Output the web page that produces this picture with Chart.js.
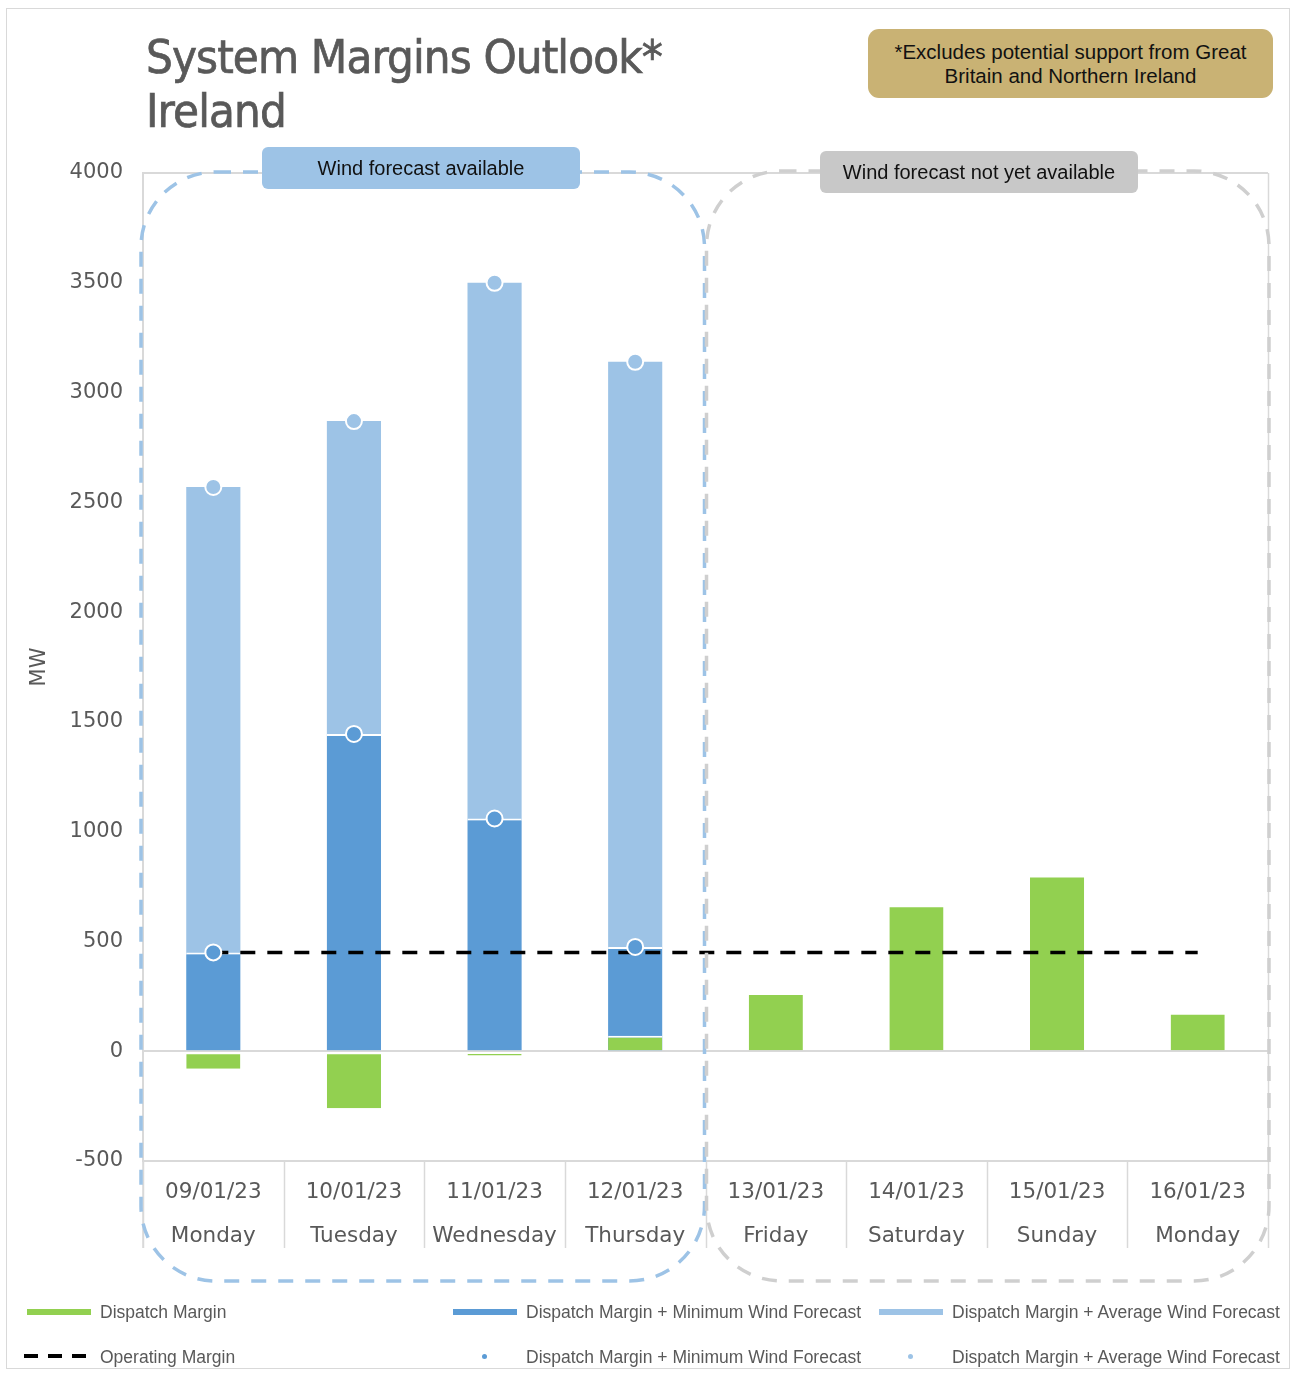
<!DOCTYPE html>
<html>
<head>
<meta charset="utf-8">
<script src="https://cdn.jsdelivr.net/npm/chart.js@4.4.0/dist/chart.umd.min.js"></script>
<style>
  html, body { margin: 0; padding: 0; background: #fff; }
  #wrap { position: relative; width: 1295px; height: 1373px; overflow: hidden; }
  #frame { position: absolute; left: 6px; top: 8px; width: 1284px; height: 1361px; border: 1.5px solid #d9d9d9; box-sizing: border-box; }
  #myChart { position: absolute; left: 0; top: 0; }
  .title { position: absolute; left: 146px; font-family: 'Liberation Sans Narrow', 'DejaVu Sans Condensed', 'Liberation Sans', sans-serif; font-size: 47px; letter-spacing: -0.9px; -webkit-text-stroke: 0.7px #595959; color: #595959; line-height: 1; white-space: nowrap; }
  #note { position: absolute; left: 868px; top: 29px; width: 405px; height: 69px; background: #c9b274; border-radius: 11px;
          font-family: 'Liberation Sans', sans-serif; font-size: 20.5px; color: #111; text-align: center; line-height: 24px; padding-top: 11px; box-sizing: border-box; }
  .leg { position: absolute; font-family: 'Liberation Sans', sans-serif; font-size: 17.5px; color: #595959; white-space: nowrap; line-height: 20px; }
  .sw { position: absolute; height: 6px; }
  .dot { position: absolute; width: 5px; height: 5px; border-radius: 50%; }
</style>
</head>
<body>
<div id="wrap">
  <div id="frame"></div>
  <canvas id="myChart" width="1295" height="1373"></canvas>
  <div class="title" style="top:33px">System Margins Outlook*</div>
  <div class="title" style="top:87px">Ireland</div>
  <div id="note">*Excludes potential support from Great<br>Britain and Northern Ireland</div>

  <div class="sw" style="left:27px; top:1309px; width:64px; background:#92d050"></div>
  <div class="leg" style="left:100px; top:1302px">Dispatch Margin</div>
  <div class="sw" style="left:453px; top:1309px; width:64px; background:#5b9bd5"></div>
  <div class="leg" style="left:526px; top:1302px">Dispatch Margin + Minimum Wind Forecast</div>
  <div class="sw" style="left:879px; top:1309px; width:64px; background:#9dc3e6"></div>
  <div class="leg" style="left:952px; top:1302px">Dispatch Margin + Average Wind Forecast</div>

  <svg style="position:absolute; left:22px; top:1350px" width="76" height="12"><line x1="2" y1="6" x2="74" y2="6" stroke="#000" stroke-width="4" stroke-dasharray="14,10"/></svg>
  <div class="leg" style="left:100px; top:1347px">Operating Margin</div>
  <div class="dot" style="left:482px; top:1354px; background:#5b9bd5"></div>
  <div class="leg" style="left:526px; top:1347px">Dispatch Margin + Minimum Wind Forecast</div>
  <div class="dot" style="left:908px; top:1354px; background:#9dc3e6"></div>
  <div class="leg" style="left:952px; top:1347px">Dispatch Margin + Average Wind Forecast</div>
</div>
<script>
var dates = ['09/01/23', '10/01/23', '11/01/23', '12/01/23', '13/01/23', '14/01/23', '15/01/23', '16/01/23'];
var days = ['Monday', 'Tuesday', 'Wednesday', 'Thursday', 'Friday', 'Saturday', 'Sunday', 'Monday'];
var dispatchMargin = [-80, -260, -20, 70, 265, 665, 800, 175];
var minWind = [450, 1445, 1060, 475, null, null, null, null];
var avgWind = [2570, 2870, 3500, 3140, null, null, null, null];
var operatingMargin = [450, 450, 450, 450, 450, 450, 450, 450];
var yTicks = [-500, 0, 500, 1000, 1500, 2000, 2500, 3000, 3500, 4000];

var labels = dates.map(function (d, i) { return [d, days[i]]; });

function roundBox(c, x1, y1, x2, y2, r) {
  c.beginPath();
  c.moveTo(x1 + r, y1);
  c.arcTo(x2, y1, x2, y2, r);
  c.arcTo(x2, y2, x1, y2, r);
  c.arcTo(x1, y2, x1, y1, r);
  c.arcTo(x1, y1, x2, y1, r);
  c.closePath();
}

function labelBox(c, cx, cy, w, h, fill, text) {
  c.setLineDash([]);
  c.fillStyle = fill;
  roundBox(c, cx - w / 2, cy - h / 2, cx + w / 2, cy + h / 2, 6);
  c.fill();
  c.fillStyle = '#111';
  c.font = '20px "Liberation Sans", sans-serif';
  c.textAlign = 'center';
  c.textBaseline = 'middle';
  c.fillText(text, cx, cy + 1);
}

var decor = {
  id: 'decor',
  afterDraw: function (chart) {
    var c = chart.ctx, a = chart.chartArea, xs = chart.scales.x;
    var step = (a.right - a.left) / dates.length;
    var ext = a.bottom + 87;
    c.save();
    // category separators under the axis, and side lines
    c.strokeStyle = '#d9d9d9';
    c.lineWidth = 1.5;
    for (var i = 0; i <= dates.length; i++) {
      var bx = Math.round(a.left + i * step) + 0.5;
      c.beginPath();
      c.moveTo(bx, (i === dates.length) ? a.top : a.bottom);
      c.lineTo(bx, ext);
      c.stroke();
    }
    c.beginPath();
    c.moveTo(a.left, a.bottom);
    c.lineTo(a.left, ext);
    c.stroke();

    var mid = (xs.getPixelForValue(3) + xs.getPixelForValue(4)) / 2;
    c.lineWidth = 3.5;
    c.setLineDash([15, 12]);
    c.strokeStyle = '#9dc3e6';
    roundBox(c, a.left - 2, a.top - 1, mid - 1, a.bottom + 120, 75);
    c.stroke();
    c.strokeStyle = '#cfcfcf';
    roundBox(c, mid + 1, a.top - 2, a.right + 1, a.bottom + 120, 75);
    c.stroke();

    labelBox(c, 421, 168, 318, 42, '#9dc3e6', 'Wind forecast available');
    labelBox(c, 979, 172, 318, 42, '#c8c8c8', 'Wind forecast not yet available');
    c.restore();
  }
};

var ctx = document.getElementById('myChart').getContext('2d');
var myChart = new Chart(ctx, {
  type: 'bar',
  data: {
    labels: labels,
    datasets: [{
        type: 'line',
        label: 'Dispatch Margin + Minimum Wind Forecast',
        data: minWind,
        showLine: false,
        pointRadius: 8,
        pointBackgroundColor: '#5b9bd5',
        pointBorderColor: '#fff',
        pointBorderWidth: 2,
        order: 0
      }, {
        type: 'line',
        label: 'Dispatch Margin + Average Wind Forecast',
        data: avgWind,
        showLine: false,
        pointRadius: 8,
        pointBackgroundColor: '#9dc3e6',
        pointBorderColor: '#fff',
        pointBorderWidth: 2,
        order: 0
      }, {
        type: 'line',
        label: 'Operating Margin',
        data: operatingMargin,
        borderColor: '#000',
        borderWidth: 3.5,
        borderDash: [15, 12],
        pointRadius: 0,
        order: 1
      }, {
        label: 'Dispatch Margin',
        data: dispatchMargin,
        backgroundColor: '#92d050',
        borderColor: '#fff',
        borderWidth: {top: 2, bottom: 0, left: 0, right: 0},
        borderSkipped: false,
        order: 2
      }, {
        label: 'Dispatch Margin + Minimum Wind Forecast',
        data: minWind,
        backgroundColor: '#5b9bd5',
        borderColor: '#fff',
        borderWidth: {top: 2, bottom: 0, left: 0, right: 0},
        borderSkipped: false,
        order: 3
      }, {
        label: 'Dispatch Margin + Average Wind Forecast',
        data: avgWind,
        backgroundColor: '#9dc3e6',
        borderWidth: 0,
        order: 4
      }
    ]
  },
  options: {
    responsive: false,
    animation: false,
    layout: { padding: { left: 23, top: 173, right: 27, bottom: 0 } },
    datasets: { bar: { grouped: false, categoryPercentage: 0.385, barPercentage: 1 } },
    plugins: { legend: { display: false }, tooltip: { enabled: false } },
    scales: {
      x: {
        afterFit: function (s) { s.height = 212; },
        grid: { display: false, drawTicks: false },
        border: { display: true, color: '#d9d9d9', width: 2 },
        ticks: {
          color: '#595959',
          padding: 9,
          maxRotation: 0,
          autoSkip: false,
          font: { family: 'DejaVu Sans', size: 21.5, lineHeight: 2.05 }
        }
      },
      y: {
        min: -500,
        max: 4000,
        afterFit: function (s) { s.width = 120; },
        afterBuildTicks: function (s) { s.ticks = yTicks.map(function (v) { return { value: v }; }); },
        grid: {
          drawTicks: false,
          lineWidth: 2,
          color: function (c) { return (c.tick && (c.tick.value === 0 || c.tick.value === 4000)) ? '#d9d9d9' : 'rgba(0,0,0,0)'; }
        },
        border: { display: true, color: '#d9d9d9', width: 2 },
        ticks: {
          color: '#595959',
          padding: 20,
          font: { family: 'DejaVu Sans', size: 21 },
          callback: function (v) { return String(v); }
        },
        title: {
          display: true,
          text: 'MW',
          color: '#595959',
          font: { family: 'DejaVu Sans', size: 21 }
        }
      }
    }
  },
  plugins: [decor]
});
</script>
</body>
</html>
